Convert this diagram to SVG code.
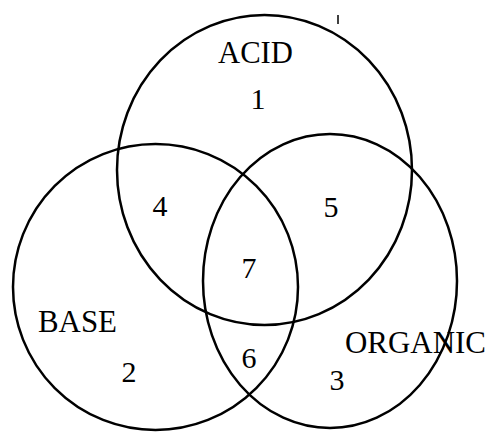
<svg xmlns="http://www.w3.org/2000/svg" width="487" height="432" viewBox="0 0 487 432">
<style>
.c{fill:none;stroke:#000;stroke-width:2.5}
.l{font-family:"Liberation Serif","Times New Roman",serif;font-size:31px;fill:#000}
.n{font-family:"Liberation Serif","Times New Roman",serif;font-size:30px;fill:#000;text-anchor:middle}
</style>
<rect width="487" height="432" fill="#fff"/>
<g id="acid">
<ellipse class="c" cx="264.5" cy="170" rx="147.5" ry="155"/>
<text class="l" x="218" y="63" textLength="75" lengthAdjust="spacingAndGlyphs">ACID</text>
<text class="n" x="258" y="109">1</text>
</g>
<g id="base">
<ellipse class="c" cx="155.5" cy="287" rx="142.5" ry="143"/>
<text class="l" x="38" y="332" textLength="79" lengthAdjust="spacingAndGlyphs">BASE</text>
<text class="n" x="129" y="382">2</text>
</g>
<g id="organic">
<ellipse class="c" cx="330" cy="281" rx="127" ry="147"/>
<text class="l" x="345" y="353" textLength="141" lengthAdjust="spacingAndGlyphs">ORGANIC</text>
<text class="n" x="337" y="390">3</text>
</g>
<g id="regions">
<text class="n" x="160" y="216">4</text>
<text class="n" x="331" y="217">5</text>
<text class="n" x="249" y="368">6</text>
<text class="n" x="249" y="278">7</text>
</g>
<g id="connectors"></g>
<g id="mark">
<path d="M338 15 L338 24" stroke="#000" stroke-width="1.5"/>
</g>
</svg>
